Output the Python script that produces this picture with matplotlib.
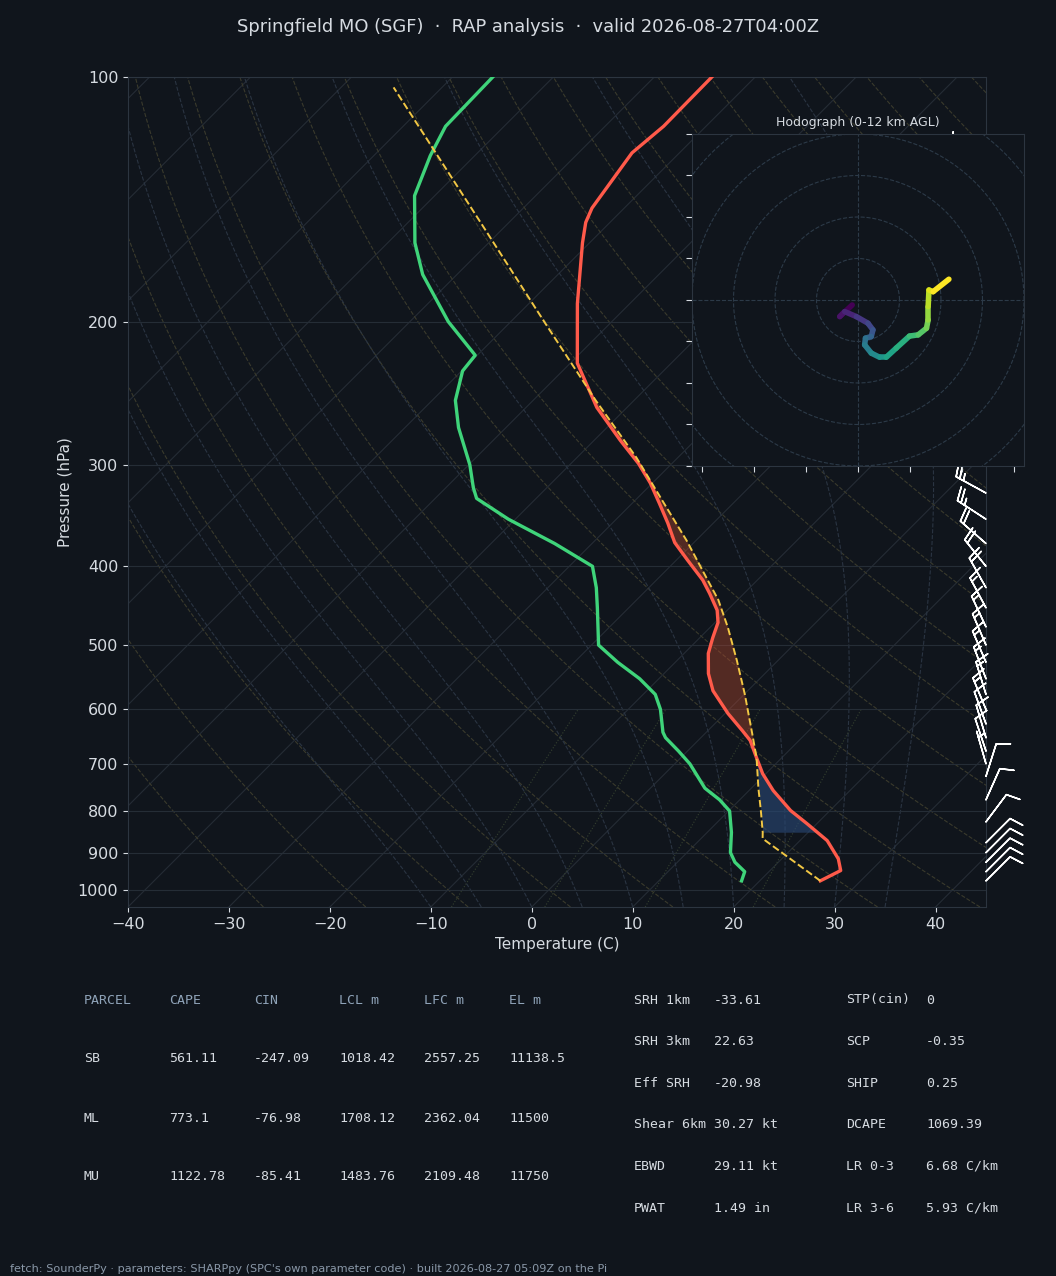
import numpy as np
import matplotlib
matplotlib.use("Agg")
import matplotlib.pyplot as plt
from matplotlib.collections import LineCollection

# ---- sounding data (hPa, C) ----
p_temp = [975, 947, 916, 870, 829, 799, 755, 720, 688, 655, 637, 607, 569, 542, 512, 490, 469,
          453, 432, 416, 393, 374, 354, 335, 316, 299, 280, 255, 225, 190, 160, 151, 145, 124,
          115, 100]
temp = [26.0, 27.0, 25.6, 22.7, 19.0, 16.1, 12.4, 9.7, 7.5, 5.15, 3.4, 0.3, -3.45, -5.6, -7.6,
        -8.7, -9.7, -11.0, -13.4, -15.4, -18.9, -21.9, -24.5, -27.25, -30.2, -33.3, -37.4, -43.0,
        -49.3, -55.2, -60.7, -62.4, -63.2, -64.7, -64.2, -64.3]

p_dew = [975, 950, 925, 900, 850, 800, 775, 750, 700, 675, 650, 640, 600, 575, 550, 525, 500,
         450, 425, 400, 375, 350, 330, 320, 300, 270, 250, 230, 220, 200, 175, 160, 140, 125, 115, 100]
dewpt = [18.2, 17.6, 15.7, 14.3, 12.4, 10.1, 8.0, 5.4, 1.5, -0.9, -3.5, -4.3, -6.8, -8.8, -11.9,
         -15.7, -19.3, -23.1, -25.2, -27.7, -33.7, -40.7, -45.9, -47.3, -49.9, -54.7, -57.7,
         -59.9, -60.2, -66.2, -73.4, -77.3, -82.0, -84.4, -85.8, -86.0]

p_parcel = [975, 865, 850, 800, 750, 688, 642, 574, 522, 476, 440, 413, 372, 329, 294, 250,
            200, 150, 103]
t_parcel = [26.0, 16.1, 15.5, 13.2, 10.7, 7.5, 4.65, 0.0, -4.1, -8.2, -11.9, -15.3, -20.9,
            -27.8, -34.1, -43.8, -56.7, -73.2, -94.8]

# wind barbs (kt)
p_barb = [975, 950, 925, 900, 875, 825, 775, 725, 700, 675, 650, 625, 600, 575, 550, 525, 500,
          475, 450, 425, 400, 375, 350, 325, 300, 125]
u_barb = [-7, -7, -7, -7, -7, -6, -4, -3, 2, 3, 3, 4, 5, 4, 5, 6, 6, 7, 8, 9, 12, 16, 20, 22, 24, 10]
v_barb = [-7, -7, -7, -7, -7, -8, -9, -9.5, -7, -9, -10, -11, -12, -13, -13, -14, -14, -15,
          -15, -16, -15, -14, -13, -12, -12, -3]

# hodograph (kt)
hodo_u = [-1.4, -4.4, -3.2, -0.4, 2.4, 3.6, 3.2, 1.8, 1.6, 3.2, 5.2, 6.8, 9.2, 12.4, 14.5,
          16.5, 16.9, 16.9, 17.1, 18.1, 21.9]
hodo_v = [-1.2, -4.0, -2.8, -4.0, -5.6, -7.2, -8.8, -9.2, -10.8, -12.8, -13.8, -13.8, -11.6,
          -8.7, -8.4, -6.8, -4.8, -1.6, 2.4, 2.0, 5.0]

title = "Springfield MO (SGF)  ·  RAP analysis  ·  valid 2026-08-27T04:00Z"
parcel_cols = ["PARCEL", "CAPE", "CIN", "LCL m", "LFC m", "EL m"]
parcel_rows = [["SB", "561.11", "-247.09", "1018.42", "2557.25", "11138.5"],
               ["ML", "773.1", "-76.98", "1708.12", "2362.04", "11500"],
               ["MU", "1122.78", "-85.41", "1483.76", "2109.48", "11750"]]
params_left = [("SRH 1km", "-33.61"), ("SRH 3km", "22.63"), ("Eff SRH", "-20.98"),
               ("Shear 6km", "30.27 kt"), ("EBWD", "29.11 kt"), ("PWAT", "1.49 in")]
params_right = [("STP(cin)", "0"), ("SCP", "-0.35"), ("SHIP", "0.25"),
                ("DCAPE", "1069.39"), ("LR 0-3", "6.68 C/km"), ("LR 3-6", "5.93 C/km")]
footer = "fetch: SounderPy · parameters: SHARPpy (SPC's own parameter code) · built 2026-08-27 05:09Z on the Pi"

BG = "#10151c"
FG = "#d6dbe1"
SPINE = "#2c3540"
SKEW = 80.44  # deg C of shift per decade of pressure (45 degree skew)


def skew(t, p):
    return np.asarray(t, float) + SKEW * np.log10(1050.0 / np.asarray(p, float))


def moist_adiabat(t0, pgrid):
    # simple pseudo-adiabat integration starting at pgrid[0]
    out = [t0]
    t = t0 + 273.15
    for i in range(1, len(pgrid)):
        p = pgrid[i - 1]
        es = 6.112 * np.exp(17.67 * (t - 273.15) / (t - 29.65))
        rs = 0.622 * es / (p - es)
        num = 287.0 * t + 2.5e6 * rs
        den = 1004.0 + 2.5e6 ** 2 * rs * 0.622 / (287.0 * t ** 2)
        t = t + num / den / p * (pgrid[i] - p)
        out.append(t - 273.15)
    return np.array(out)


fig = plt.figure(figsize=(10.56, 12.76), dpi=100, facecolor=BG)
ax = fig.add_axes([0.1212, 0.2892, 0.8125, 0.6505], facecolor=BG)
ax.set_yscale("log")
ax.set_ylim(1050, 100)
ax.set_xlim(-40, 45)

pp = np.logspace(np.log10(1050), 2, 120)
# isotherms
for t in range(-160, 60, 10):
    ax.plot(skew(np.full_like(pp, t), pp), pp, color="#252c35", lw=0.8, zorder=1)
# dry adiabats
for th in range(-30, 200, 10):
    tk = (th + 273.15) * (pp / 1000.0) ** 0.286 - 273.15
    ax.plot(skew(tk, pp), pp, color="#3a3a2c", lw=0.8, ls="--", zorder=1)
# moist adiabats
pm = np.linspace(1050, 100, 200)
for t0 in range(-10, 40, 5):
    ax.plot(skew(moist_adiabat(t0, pm), pm), pm, color="#2a3442", lw=0.8, ls="--", zorder=1)
# mixing ratio lines
pw = np.linspace(1050, 600, 30)
for w in [2, 4, 8, 16]:
    e = pw * w / 1000.0 / (0.622 + w / 1000.0)
    td = 243.5 * np.log(e / 6.112) / (17.67 - np.log(e / 6.112))
    ax.plot(skew(td, pw), pw, color="#34402f", lw=0.8, ls=":", zorder=1)

for p in [100, 200, 300, 400, 500, 600, 700, 800, 900, 1000]:
    ax.axhline(p, color="#252d36", lw=0.8, zorder=1)

# CAPE / CIN shading
pg = np.linspace(865, 250, 400)
tp = np.interp(np.log(pg), np.log(p_parcel[::-1]), t_parcel[::-1])
te = np.interp(np.log(pg), np.log(p_temp[::-1]), temp[::-1])
xp, xe = skew(tp, pg), skew(te, pg)
ax.fill_betweenx(pg, xe, xp, where=(xp > xe) & (pg < 720), color="#b84a30", alpha=0.4,
                 lw=0, zorder=2)
ax.fill_betweenx(pg, xe, xp, where=(xe > xp) & (pg <= 850), color="#2a4a78", alpha=0.6,
                 lw=0, zorder=2)

ax.plot(skew(temp, p_temp), p_temp, color="#ff5a4a", lw=2.4, zorder=4)
ax.plot(skew(dewpt, p_dew), p_dew, color="#3fd47a", lw=2.4, zorder=4)
ax.plot(skew(t_parcel, p_parcel), p_parcel, color="#f2c744", lw=1.4, ls="--", zorder=4)

ax.barbs(np.ones(len(p_barb)), p_barb, u_barb, v_barb, transform=ax.get_yaxis_transform(),
         color="white", length=7, linewidth=1.1, clip_on=False, zorder=5)

ax.set_yticks([100, 200, 300, 400, 500, 600, 700, 800, 900, 1000])
ax.set_yticklabels(["100", "200", "300", "400", "500", "600", "700", "800", "900", "1000"])
ax.minorticks_off()
ax.set_xticks(range(-40, 50, 10))
ax.tick_params(colors=FG, labelsize=11.5)
for s in ax.spines.values():
    s.set_color(SPINE)
ax.set_xlabel("Temperature (C)", color=FG, fontsize=11)
ax.set_ylabel("Pressure (hPa)", color=FG, fontsize=11)
fig.text(0.5, 0.979, title, ha="center", va="center", color=FG, fontsize=12.9)

# ---- hodograph ----
hx = fig.add_axes([0.6553, 0.6348, 0.3144, 0.2602], facecolor=BG, zorder=6)
hx.set_xlim(-40, 40)
hx.set_ylim(-40, 40)
th = np.linspace(0, 2 * np.pi, 200)
for r in range(10, 70, 10):
    hx.plot(r * np.cos(th), r * np.sin(th), color="#2c3a48", lw=0.8, ls="--")
hx.axhline(0, color="#2c3a48", lw=0.8, ls="--")
hx.axvline(0, color="#2c3a48", lw=0.8, ls="--")
pts = np.column_stack([hodo_u, hodo_v])
segs = np.stack([pts[:-1], pts[1:]], axis=1)
lc = LineCollection(segs, cmap="viridis", linewidths=4, capstyle="round")
lc.set_array(np.arange(len(segs)))
hx.add_collection(lc)
hx.set_xticks(np.arange(-37.5, 40, 12.5))
hx.set_yticks(range(-40, 50, 10))
hx.set_xticklabels([])
hx.set_yticklabels([])
hx.tick_params(colors=FG, length=4)
for s in hx.spines.values():
    s.set_color(SPINE)
hx.set_title("Hodograph (0-12 km AGL)", color=FG, fontsize=9)

# ---- parameter table ----
mono = dict(family="DejaVu Sans Mono", fontsize=9.5)
col_x = [84, 169, 254, 339, 424, 509]
for j, c in enumerate(parcel_cols):
    fig.text(col_x[j] / 1056, 1 - 1000 / 1276, c, color="#8fa3b8", va="center", **mono)
for i, row in enumerate(parcel_rows):
    for j, v in enumerate(row):
        fig.text(col_x[j] / 1056, 1 - (1059 + 59 * i) / 1276, v, color=FG, va="center", **mono)
for i, (k, v) in enumerate(params_left):
    y = 1 - (1000 + 41.6 * i) / 1276
    fig.text(634 / 1056, y, k, color=FG, va="center", **mono)
    fig.text(714 / 1056, y, v, color=FG, va="center", **mono)
for i, (k, v) in enumerate(params_right):
    y = 1 - (1000 + 41.6 * i) / 1276
    fig.text(846 / 1056, y, k, color=FG, va="center", **mono)
    fig.text(926 / 1056, y, v, color=FG, va="center", **mono)
fig.text(10 / 1056, 1 - 1269 / 1276, footer, color="#8a98a8", fontsize=8.15, va="center")

fig.savefig("out.png", dpi=100, facecolor=BG)
